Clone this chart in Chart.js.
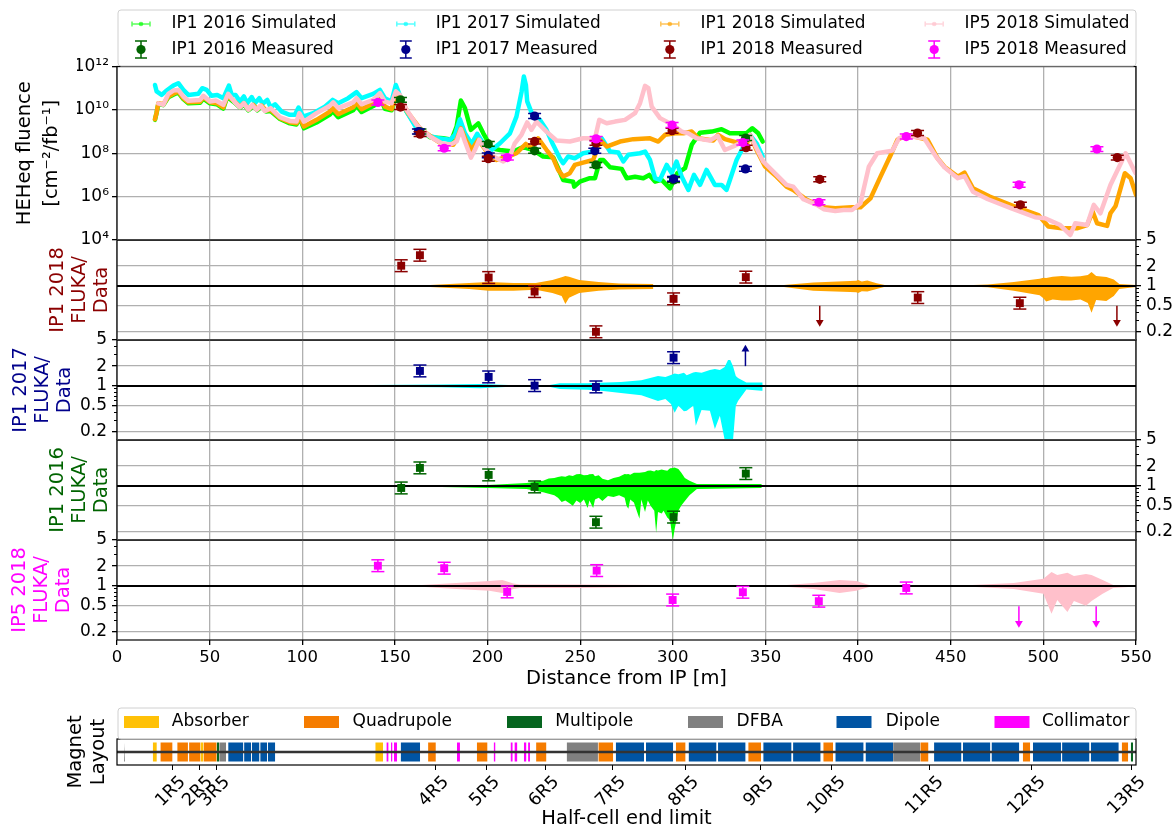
<!DOCTYPE html>
<html>
<head>
<meta charset="utf-8">
<script src="https://cdn.jsdelivr.net/npm/chart.js@4"></script>
<style>
  body { margin: 0; background: #fff; }
  #page { position: relative; width: 1172px; height: 831px; }
  canvas { position: absolute; left: 0; top: 0; }
</style>
</head>
<body>
<div id="page"></div>
<script>
// simulated fluence, x in metres, y as log10(fluence)
const sim2016X = [20.5,21.4,22.3,25,27.7,30.4,33.1,35.8,38.5,44.8,46.6,50.2,53.8,57.4,59.5,62.8,66.4,68.5,70.9,73.6,75.7,78,80.4,82.9,88,93.3,96.9,98.4,100.9,107.7,114.9,116.4,119.4,127.5,129.3,132,138.3,142.8,144.6,148.2,150.5,152.7,156.3,161.7,168.9,176.1,180.6,183.3,185.6,187.8,191,195,197.7,202.2,206.7,213.9,219.2,224.6,230,235.4,238.1,240.8,246.2,246.8,249.8,255.2,258,260.7,262.5,266.1,272.4,275.1,279.6,284.1,287.3,290.4,294,298.5,302.4,306.6,310.2,314.7,321,326.3,330.8,339.8,342.9,346.1,348.5];
const sim2016Y = [9.54,9.88,10.28,10.22,10.58,10.7,10.8,10.5,10.3,10.33,10.52,10.3,10.26,10.06,10.6,10.38,10.1,10.26,9.98,10.18,9.98,10.15,9.92,9.95,9.58,9.38,9.33,9.64,9.15,9.42,9.78,9.95,9.66,9.98,10.2,9.9,10.18,10.42,10.05,9.98,10.6,10.54,9.92,9.23,8.74,8.69,8.62,9.23,10.43,10.08,9.08,9.38,8.92,8.23,8.15,8.08,8.28,8.15,7.85,7.82,7.31,6.77,6.69,6.46,6.69,6.85,6.85,7.69,7.69,7.35,7.28,6.85,6.92,6.85,7,6.69,6.77,6.38,7.08,7.31,8.39,8.95,9,9.11,8.92,8.92,9.15,8.92,8.54];
const sim2017X = [20.5,21.4,24.1,26.8,30.4,33.1,35.8,38.5,43.9,46,48.4,51,54.1,57.4,60.4,61.9,64,66.4,68.5,70.3,72.7,74.5,76.8,78.6,81.1,82.9,85.3,88.8,93.3,96,98,100.5,105.9,112.2,116.4,119.4,124.8,129.3,132,138.3,141.9,144.6,148.2,150.5,153.6,156.3,161.7,167.1,173.4,179.7,182.4,185.1,187.8,191.4,194.4,197.7,202.2,206.7,212.1,215.6,217.4,218.4,219.6,220.7,221.4,224.6,228.2,231.8,235.4,239,240.8,243.5,247.1,251.6,257,258.9,261.6,266.1,270.6,273.3,276,282.3,285,287.7,290.4,293,296.7,299.4,302,304.8,308.4,311.4,314.7,318.2,322.7,326.3,329,330.8,334.4,337.7,341.6,345.2,348.5];
const sim2017Y = [11.15,10.85,10.69,10.89,11.12,11.23,10.92,10.69,10.74,11,10.92,10.65,10.69,10.54,11.12,10.69,10.69,10.39,10.62,10.31,10.59,10.31,10.54,10.28,10.46,10.12,10.26,9.92,9.77,9.77,10.11,9.69,9.85,10.15,10.46,10.31,10.54,10.82,10.54,10.74,10.92,10.54,10.39,11.15,10.46,9.92,9.15,8.85,8.69,8.62,8.85,9.57,8.92,8.43,8.9,8.46,8.15,8.46,8.92,9.69,10.43,10.85,11.54,11.15,10.39,9.69,9.54,9.08,8.39,7.77,7.54,7.85,7.77,8,8.08,8.69,8.69,8.08,8.03,7.62,7.93,8,8.08,7.69,6.85,6.77,7.46,7.08,7.62,6.92,6.31,7,6.54,7.23,6.54,6.54,6.31,6.77,7.69,8.23,8.85,8.46,7.85];
const sim2018X = [20.5,21.4,22.3,25,27.7,30.4,33.1,35.8,38.5,44.8,46.6,50.2,53.8,57.4,59.5,62.8,66.4,68.5,70.9,73.6,75.7,78,80.4,82.9,88,93.3,96.9,98.4,100.9,107.7,114.9,116.4,119.4,127.5,129.3,132,138.3,142.8,144.6,148.2,150.5,152.7,157.2,163.5,170.7,176.1,181.5,183.3,185.6,188.7,191.4,195,199.5,204.9,212,215.6,220.7,223.7,227.3,231.8,235.4,238.1,240.8,244.4,247.1,251.6,257,258,260.7,264.3,271.5,278.7,287.7,292.2,295.8,301.2,305.7,310.2,313.8,321.8,324.5,328.1,334.4,339.8,341.6,345.2,349.7,356,361.4,365,372.3,381.4,387.7,396.7,401.3,406.7,412.1,417.6,421.2,426.6,437.5,442.9,446.6,453.8,457.4,462,471,484.6,497.3,502.7,510,518.1,523.6,526.6,529,534.4,536.2,539,544,547.1,550];
const sim2018Y = [9.57,9.88,10.31,10.26,10.62,10.74,10.85,10.54,10.35,10.38,10.58,10.35,10.31,10.12,10.65,10.43,10.15,10.31,10.03,10.23,10.03,10.2,9.97,10,9.62,9.43,9.38,9.69,9.23,9.54,9.92,10.08,9.8,10.12,10.34,10.03,10.31,10.54,10.15,10.03,10.69,10.54,9.85,9.15,8.69,8.39,8.39,8.62,9.15,8.54,8.16,8.62,8.08,7.69,7.88,8,8.43,8.23,8.69,8.16,7.77,7.23,6.93,7.08,7.46,7.57,7.69,7.92,8.62,8.31,8.54,8.65,8.69,8.54,8.85,8.92,8.92,9,8.69,8.59,8.85,8.65,8.5,8.39,8.85,8.15,7.4,6.92,6.46,6.31,5.85,5.51,5.46,5.51,5.51,5.92,6.92,7.92,8.62,8.85,8.62,7.77,7.38,6.92,7.11,6.38,6,5.54,5.15,4.62,4.54,4.54,4.69,5.31,4.77,4.65,5.23,5.57,7.08,6.85,6.08];
const simIP5X = [22.3,25,27.7,30.4,33.1,35.8,38.5,44.8,46.6,50.2,53.4,57.4,60,63.7,66.4,68.5,70.9,73,75.4,77.5,79.9,82.9,88,93.3,96.9,98.4,100.9,107.7,114.9,116.7,119.4,127.5,129.3,132,138.3,141.9,144.6,148.2,150.5,152.7,156.3,161.7,168.9,175.2,179.7,183.3,185.6,187.8,191,193.2,195.5,198.6,203,208.5,212,214.7,218.3,221.4,223.7,226.4,231.8,237.2,244.4,251.6,258,260.3,264.3,268.8,274.2,279.6,282.3,285,286.8,288.6,293.1,299.9,304.8,308.4,312.8,320,324.2,328.1,332.6,338,341.6,345.2,348.8,356,361.4,365,370.5,377.7,381.4,387.7,392.2,396.7,401.3,403.1,405.8,410.3,418.5,422.1,426.6,435.7,442,446.6,453.8,457.4,462,470.1,482.8,495.5,500.9,509.1,514.5,517.2,523.6,527.2,530.8,536.2,544.4,549.8];
const simIP5Y = [10.3,10.23,10.74,10.89,10.92,10.62,10.42,10.46,10.65,10.39,10.43,10.23,10.74,10.34,10.12,10.31,10,10.23,10,10.2,9.95,10.08,9.66,9.49,9.46,9.85,9.46,9.85,10.19,10.35,10.08,10.35,10.54,10.26,10.46,10.77,10.38,10.31,10.85,10.69,10,9.31,8.77,8.46,8.39,8.54,9.11,8.54,7.8,8.16,8.62,8.23,7.85,7.62,7.85,8.46,8.85,9.42,9.08,9.46,9,8.59,8.54,8.69,8.69,9.54,9.38,9.46,9.54,9.85,10.31,11.11,11,10.15,9.62,9.31,9,8.92,8.69,8.59,8.8,8.15,8.31,8.54,8.85,8.23,7.62,7,6.54,6.46,5.88,5.62,5.42,5.34,5.38,5.38,5.69,6.38,7.38,8,8.12,8.69,8.8,8.69,7.85,7.35,6.85,6.95,6.23,5.88,5.46,5.05,5,4.69,4.23,4.77,4.69,5.62,5.23,6.54,8,7.08];

// measured fluence in cm-2/fb-1
const meas2016X = [153,163.5,200.4,225.4,258.5,300.4,339.3];
const meas2016Y = [2.9e10,1e9,2.7e8,1.3e8,2.9e7,5.9e6,5e8];
const meas2017X = [162.7,200.4,225.4,257.9,300.4,339.2];
const meas2017Y = [1e9,8e7,5.2e9,1.3e8,6.6e6,1.9e7];
const meas2018X = [153,163.6,200.4,225.4,258.5,299.6,339.5,379.3,432.1,487.6,539.9];
const meas2018Y = [1.35e10,7.6e8,5.6e7,3.5e8,3e8,1.1e9,1.8e8,6.3e6,8.5e8,4.2e5,6.3e7];
const measIP5X = [140.8,176.6,210.7,258.6,299.6,337.8,378.9,426,486.9,528.9];
const measIP5Y = [2.2e10,1.7e8,6.3e7,4.6e8,2e9,3.1e8,5.5e5,5.9e8,3.5e6,1.55e8];

// FLUKA/data ratios
const ratio2018X = [153.4,163.5,200.6,225.4,258.5,300.4,339.4,432.2,487.3];
const ratio2018Y = [2.03,2.93,1.34,0.82,0.2,0.635,1.36,0.664,0.546];
const ratio2017X = [163.5,200.6,225.4,258.5,300.4];
const ratio2017Y = [1.69,1.37,1.01,0.965,2.69];
const ratio2016X = [153.4,163.5,200.6,225.4,258.5,300.4,339.4];
const ratio2016Y = [0.93,1.88,1.47,0.965,0.28,0.335,1.54];
const ratioIP5X = [140.8,176.6,210.6,258.9,299.9,337.8,378.8,426];
const ratioIP5Y = [2.03,1.86,0.81,1.71,0.61,0.8,0.585,0.93];

// limit arrows: x, tail ratio, head ratio
const arrow2018 = [[379.3,0.5,0.28],[539.7,0.5,0.28]];
const arrow2017 = [[339.2,2.0,3.6]];
const arrowIP5 = [[486.8,0.49,0.27],[528.5,0.49,0.27]];

// simulation spread around 1, NaN leaves a gap
const band2018X = [80,120,150,169,190,200.6,214,226,235,240,242,244,249.5,260,271,289.5,NaN,345,360,375.8,395.6,399,400,402,405,410,415,420,NaN,451,470,484,498,500,501.5,505,510,515,520,524,526,528.5,534,538,541,550];
const band2018Hi = [1.005,1.005,1.01,1.035,1.11,1.15,1.11,1.11,1.23,1.35,1.42,1.38,1.23,1.15,1.09,1.07,NaN,1.01,1.03,1.13,1.19,1.2,1.23,1.17,1.21,1.1,1.02,1.005,NaN,1.005,1.05,1.15,1.28,1.33,1.32,1.38,1.42,1.38,1.4,1.47,1.63,1.42,1.37,1.25,1.07,1.035];
const band2018Lo = [0.995,0.995,0.99,0.965,0.9,0.84,0.84,0.87,0.78,0.7,0.53,0.66,0.78,0.84,0.885,0.9,NaN,0.99,0.965,0.84,0.81,0.8,0.78,0.83,0.82,0.9,0.98,0.995,NaN,0.995,0.95,0.84,0.72,0.65,0.58,0.62,0.6,0.6,0.62,0.55,0.39,0.61,0.59,0.7,0.9,0.965];
const band2017X = [80,175,196,215,232,239,254,260,272,283,292,296,299,301,303,306,307.5,311,312.4,315.5,320,322.7,325.4,328,329.8,331,332.5,334,335.2,339.7,347.8,348.5];
const band2017Hi = [1.005,1.05,1.07,1.02,1.01,1.1,1.1,1.12,1.15,1.22,1.42,1.37,1.47,1.55,1.5,1.58,1.45,1.6,1.63,1.58,1.75,1.81,1.75,1.94,2.48,2.48,2,1.42,1.32,1.13,1.13,1.13];
const band2017Lo = [0.995,0.95,0.92,0.98,0.99,0.9,0.87,0.85,0.78,0.72,0.59,0.63,0.53,0.39,0.5,0.41,0.42,0.5,0.247,0.43,0.417,0.22,0.35,0.15,0.15,0.15,0.15,0.5,0.59,0.885,0.84,0.84];
const band2016X = [80,150,175,200,221,230,233,236,238,240,242,244,246,248,250,252,254,255,257,258,260,262,265,268,271,274,275,276,277,279,282,283,285,286.5,288,290,291,292,294,295,297,298.5,300,301,303,304.5,306.5,309,313,348];
const band2016Hi = [1.005,1.01,1.01,1.035,1.11,1.2,1.3,1.32,1.37,1.4,1.38,1.45,1.42,1.5,1.52,1.45,1.47,1.5,1.52,1.4,1.45,1.28,1.22,1.32,1.38,1.52,1.5,1.52,1.48,1.58,1.58,1.6,1.63,1.7,1.72,1.65,1.75,1.72,1.78,1.75,1.7,1.85,1.88,1.9,1.81,1.6,1.32,1.2,1.07,1.07];
const band2016Lo = [0.995,0.97,0.96,0.93,0.9,0.8,0.76,0.72,0.66,0.57,0.6,0.55,0.5,0.6,0.55,0.62,0.46,0.6,0.46,0.62,0.66,0.59,0.7,0.68,0.72,0.66,0.5,0.447,0.62,0.56,0.315,0.62,0.4,0.6,0.5,0.42,0.193,0.4,0.38,0.417,0.33,0.3,0.15,0.22,0.417,0.5,0.59,0.72,0.9,0.93];
const bandIP5X = [160,183,201,208,214,217.5,250,295,330,NaN,357.8,375.8,390,399,406,412,NaN,453,484,500,504.4,507.5,513,516.5,523,526,532,537.7,550];
const bandIP5Hi = [1.01,1.11,1.19,1.23,1.09,1.05,1.05,1.03,1.005,NaN,1.01,1.11,1.23,1.19,1.035,1,NaN,1.005,1.11,1.28,1.63,1.47,1.58,1.42,1.52,1.47,1.23,1.035,1.02];
const bandIP5Lo = [0.99,0.9,0.84,0.78,0.9,0.93,0.93,0.97,0.995,NaN,0.99,0.9,0.78,0.84,0.965,1,NaN,0.995,0.9,0.76,0.375,0.61,0.4,0.59,0.5,0.59,0.76,0.93,0.98];

const fluenceTicks = [1e4,1e6,1e8,1e10,1e12];
const fluenceTickLabels = ['10⁴','10⁶','10⁸','10¹⁰','10¹²'];
const ratioTicks = [0.2,0.5,1,2,5];
const ratioMinorTicks = [0.3,0.4,0.6,0.7,0.8,0.9,3,4];
const refLineX = [0,550];
const refLineY = [1,1];

// magnet layout, [start, end] in metres
const absorberSpans = [[19.3,21.5],[45.1,46.7],[139.4,143.6]];
const quadrupoleSpans = [[23.4,30],[32.5,38.3],[38.9,45.1],[46.7,53.8],[167.9,172.1],[194.2,200],[226.2,231.8],[259.8,267.8],[301.6,306.9],[340.7,347.6],[381.2,386.5],[433.6,438],[488.9,492.9],[542.3,545.8]];
const multipoleSpans = [[53.8,55.2],[547.2,548.4]];
const dfbaSpans = [[3.8,4.3],[55.2,58.9],[242.7,259.6],[418.9,433.6]];
const dipoleSpans = [[60,68.2],[68.6,72.4],[72.8,76.9],[77.3,81],[81.4,85.4],[153.1,163.6],[269.2,284.5],[285.5,300.2],[308.5,323.6],[324.4,339.3],[348.8,364.1],[364.9,379.8],[387.7,403],[404,418.9],[441,455.8],[456.6,471.4],[472,487],[494.4,509.5],[510.1,524.9],[525.6,540.7]];
const collimatorSpans = [[145.4,146.6],[147.9,148.7],[149.5,151.2],[183.5,185.1],[203.3,204.3],[212.4,213.6],[214.5,216.1],[219.6,221],[221.9,222.9]];
const cellEndX = [29.7,44.3,53.5,171.7,199.3,231.2,267.2,306.6,347.1,385.9,438.8,493.8,547.8];
const cellEndLabels = ['1R5','2R5','3R5','4R5','5R5','6R5','7R5','8R5','9R5','10R5','11R5','12R5','13R5'];

const legendLabels = ['IP1 2016','IP1 2017','IP1 2018','IP5 2018'];
const simColors = ['#00ff00','#00ffff','#ffa500','#ffc0cb'];
const measColors = ['#006400','#00008b','#8b0000','#ff00ff'];
const magnetLabels = ['Absorber','Quadrupole','Multipole','DFBA','Dipole','Collimator'];
const magnetColors = ['#ffc107','#f57c00','#06651f','#808080','#0054a3','#ff00ff'];

const FONT = 'DejaVu Sans';
const GRID = '#b0b0b0';
const TICK_BOX = 40; // room for y tick labels, chart.js clips them to the scale box
Chart.defaults.font.family = FONT;
Chart.defaults.color = '#000';
Chart.defaults.animation = false;

const page = document.getElementById('page');

function makeChart(datasets, scales, padding, plugins) {
    const canvas = document.createElement('canvas');
    canvas.width = 1172;
    canvas.height = 831;
    page.appendChild(canvas);
    // titleAxis is a second y scale, so say which one the data belongs to
    datasets.forEach(d => { d.xAxisID = 'x'; d.yAxisID = 'y'; });
    return new Chart(canvas, {
        type: 'scatter',
        data: { datasets: datasets },
        options: {
            responsive: false,
            devicePixelRatio: 1,
            layout: { padding: padding },
            plugins: { legend: { display: false }, tooltip: { enabled: false } },
            scales: scales
        },
        plugins: [framePlugin].concat(plugins || [])
    });
}

const framePlugin = {
    id: 'frame',
    afterDatasetsDraw(chart) {
        const a = chart.chartArea, ctx = chart.ctx;
        ctx.save();
        ctx.strokeStyle = '#000';
        ctx.lineWidth = 1.2;
        ctx.strokeRect(a.left, a.top, a.right - a.left, a.bottom - a.top);
        ctx.restore();
    }
};

function toPoints(xs, ys) {
    return xs.map((x, i) => ({ x: x, y: ys[i] }));
}

function simLine(xs, logs, color, order) {
    return {
        data: toPoints(xs, logs.map(v => Math.pow(10, v))),
        showLine: true, borderColor: color, borderWidth: 4.5, pointRadius: 0,
        borderJoinStyle: 'round', borderCapStyle: 'round', order: order
    };
}

// error bar stems + caps, then the markers
function measured(xs, ys, color, style, radius, factor, order) {
    const stems = [];
    xs.forEach((x, i) => {
        stems.push({ x: x, y: ys[i] / factor }, { x: x, y: ys[i] * factor }, { x: NaN, y: NaN });
    });
    return [
        { data: toPoints(xs, ys), showLine: false, pointStyle: style, pointRadius: radius,
          pointBackgroundColor: color, pointBorderWidth: 0, order: order },
        { data: stems, showLine: true, borderColor: color, borderWidth: 1.5, pointStyle: 'line',
          pointRadius: 6.5, pointBorderColor: color, pointBorderWidth: 1.5, order: order + 0.5 }
    ];
}

function arrows(list, color) {
    return list.map(a => ({
        data: [{ x: a[0], y: a[1] }, { x: a[0], y: a[2] }],
        showLine: true, borderColor: color, borderWidth: 1.5,
        pointStyle: 'triangle', pointRadius: [0, 4.5], pointBackgroundColor: color,
        pointBorderWidth: 0, rotation: a[2] < a[1] ? 180 : 0, order: 1
    }));
}

function band(xs, hi, lo, color) {
    return [
        { data: toPoints(xs, hi), showLine: true, fill: '+1', backgroundColor: color, borderWidth: 0, pointRadius: 0, order: 5 },
        { data: toPoints(xs, lo), showLine: true, borderWidth: 0, pointRadius: 0, order: 5 }
    ];
}

function hiddenX() {
    return {
        type: 'linear', min: 0, max: 550,
        ticks: { display: false, stepSize: 50 },
        grid: { color: GRID, lineWidth: 1.3, drawTicks: false },
        border: { display: false },
        afterFit(s) { s.height = 0; }
    };
}

// left box that only carries the rotated axis title
function titleAxis(lines, color, lineHeight, padTop, width) {
    return {
        type: 'linear', position: 'left', weight: 5,
        grid: { display: false }, border: { display: false }, ticks: { display: false },
        title: { display: true, text: lines, color: color,
                 font: { size: 19.5, family: FONT, lineHeight: lineHeight + 'px' }, padding: { top: padTop, bottom: 0 } },
        afterFit(s) { s.width = width; }
    };
}

function ratioPanel(top, side, titleText, titleColor, padTop, datasets, showAxis) {
    const onLeft = side === 'left';
    const scales = {
        x: hiddenX(),
        yt: titleAxis(titleText, titleColor, 22, padTop, onLeft ? 117 - TICK_BOX : 117),
        y: {
            type: 'logarithmic', position: side, min: 0.15, max: 5,
            grid: { color: GRID, lineWidth: 1.3, tickColor: '#000', tickLength: 5 },
            border: { display: false },
            ticks: { autoSkip: false, padding: 5, font: { size: 17 }, callback: v => String(v) },
            afterBuildTicks(s) { s.ticks = ratioTicks.map(v => ({ value: v })); },
            afterFit(s) { s.width = onLeft ? TICK_BOX : 36; }
        },
        ym: {
            type: 'logarithmic', position: side, weight: -1, min: 0.15, max: 5,
            grid: { drawOnChartArea: false, tickColor: '#000', tickLength: 3 },
            border: { display: false },
            ticks: { autoSkip: false, callback: () => '' },
            afterBuildTicks(s) { s.ticks = ratioMinorTicks.map(v => ({ value: v })); },
            afterFit(s) { s.width = 0; }
        }
    };
    let bottom = 831 - top - 100;
    if (showAxis) {
        scales.x = Object.assign(hiddenX(), {
            ticks: { stepSize: 50, font: { size: 16.5 }, padding: 3, maxRotation: 0 },
            grid: { color: GRID, lineWidth: 1.3, tickColor: '#000', tickLength: 5 },
            title: { display: true, text: 'Distance from IP [m]', font: { size: 19.5 }, padding: { top: 0, bottom: 0 } },
            afterFit(s) { s.height = 51; }
        });
        bottom -= 51;
    }
    const refLine = { data: toPoints(refLineX, refLineY), showLine: true, borderColor: '#000', borderWidth: 2, pointRadius: 0, order: 2 };
    makeChart(datasets.concat([refLine]), scales, { left: 0, right: onLeft ? 36 : 0, top: top, bottom: bottom });
}

// matplotlib style legend block, the library's one cannot keep these columns
const fluenceLegend = {
    id: 'fluenceLegend',
    afterDraw(chart) {
        const ctx = chart.ctx;
        const markX = [141, 405.8, 669.8, 934.2], textX = [171.6, 435.7, 700.5, 964.6];
        legendBox(ctx, 118, 10, 1018, 56);
        ctx.font = '16.9px ' + FONT;
        ctx.textBaseline = 'middle';
        legendLabels.forEach((label, i) => {
            const c = markX[i];
            ctx.globalAlpha = 0.65;
            ctx.strokeStyle = ctx.fillStyle = simColors[i];
            ctx.lineWidth = 1.5;
            ctx.beginPath();
            ctx.moveTo(c - 9, 24); ctx.lineTo(c + 9, 24);
            ctx.moveTo(c - 9, 21.5); ctx.lineTo(c - 9, 26.5);
            ctx.moveTo(c + 9, 21.5); ctx.lineTo(c + 9, 26.5);
            ctx.stroke();
            ctx.beginPath(); ctx.arc(c, 24, 2.3, 0, 7); ctx.fill();
            ctx.globalAlpha = 1;
            ctx.strokeStyle = ctx.fillStyle = measColors[i];
            ctx.beginPath();
            ctx.moveTo(c, 41); ctx.lineTo(c, 58);
            ctx.moveTo(c - 6, 41); ctx.lineTo(c + 6, 41);
            ctx.moveTo(c - 6, 58); ctx.lineTo(c + 6, 58);
            ctx.stroke();
            ctx.beginPath(); ctx.arc(c, 49.5, 4.6, 0, 7); ctx.fill();
            ctx.fillStyle = '#000';
            ctx.fillText(label + ' Simulated', textX[i], 24);
            ctx.fillText(label + ' Measured', textX[i], 49.5);
        });
    }
};

const magnetLegend = {
    id: 'magnetLegend',
    afterDraw(chart) {
        const ctx = chart.ctx;
        const swatchX = [124, 304, 507, 688, 836.5, 994.5], textX = [171.8, 352.5, 555.3, 736.6, 885.7, 1042];
        legendBox(ctx, 118, 708, 1018, 31);
        ctx.font = '17px ' + FONT;
        ctx.textBaseline = 'middle';
        magnetLabels.forEach((label, i) => {
            ctx.fillStyle = magnetColors[i];
            ctx.fillRect(swatchX[i], 716, 35, 12);
            ctx.fillStyle = '#000';
            ctx.fillText(label, textX[i], 722);
        });
    }
};

function legendBox(ctx, x, y, w, h) {
    ctx.fillStyle = 'rgba(255,255,255,0.8)';
    ctx.strokeStyle = '#d0d0d0';
    ctx.lineWidth = 1;
    ctx.beginPath();
    ctx.roundRect(x, y, w, h, 3);
    ctx.fill();
    ctx.stroke();
}

// top panel
const fluenceSets = [
    ...measured(measIP5X, measIP5Y, measColors[3], 'circle', 4.6, 1.3, 0),
    ...measured(meas2018X, meas2018Y, measColors[2], 'circle', 4.6, 1.3, 1),
    ...measured(meas2017X, meas2017Y, measColors[1], 'circle', 4.6, 1.3, 2),
    ...measured(meas2016X, meas2016Y, measColors[0], 'circle', 4.6, 1.3, 3),
    simLine(simIP5X, simIP5Y, simColors[3], 4),
    simLine(sim2018X, sim2018Y, simColors[2], 5),
    simLine(sim2017X, sim2017Y, simColors[1], 6),
    simLine(sim2016X, sim2016Y, simColors[0], 7)
];
makeChart(fluenceSets, {
    x: hiddenX(),
    yt: titleAxis(['HEHeq fluence', '[cm⁻²/fb⁻¹]'], '#000', 27, 11, 117 - TICK_BOX),
    y: {
        type: 'logarithmic', position: 'left', min: 1e4, max: 1e12,
        grid: { color: GRID, lineWidth: 1.3, tickColor: '#000', tickLength: 5 },
        border: { display: false },
        ticks: { autoSkip: false, padding: 3, font: { size: 17 }, callback: (v, i) => fluenceTickLabels[i] },
        afterBuildTicks(s) { s.ticks = fluenceTicks.map(v => ({ value: v })); },
        afterFit(s) { s.width = TICK_BOX; }
    }
}, { left: 0, right: 36, top: 66.5, bottom: 831 - 240 }, [fluenceLegend]);

// ratio panels
ratioPanel(240, 'right', ['IP1 2018', 'FLUKA/', 'Data'], measColors[2], 47,
    [...measured(ratio2018X, ratio2018Y, measColors[2], 'rect', 5.6, 1.23, 0), ...arrows(arrow2018, measColors[2]), ...band(band2018X, band2018Hi, band2018Lo, simColors[2])]);
ratioPanel(340, 'left', ['IP1 2017', 'FLUKA/', 'Data'], measColors[1], 10,
    [...measured(ratio2017X, ratio2017Y, measColors[1], 'rect', 5.6, 1.23, 0), ...arrows(arrow2017, measColors[1]), ...band(band2017X, band2017Hi, band2017Lo, simColors[1])]);
ratioPanel(440, 'right', ['IP1 2016', 'FLUKA/', 'Data'], measColors[0], 47,
    [...measured(ratio2016X, ratio2016Y, measColors[0], 'rect', 5.6, 1.23, 0), ...band(band2016X, band2016Hi, band2016Lo, simColors[0])]);
ratioPanel(540, 'left', ['IP5 2018', 'FLUKA/', 'Data'], measColors[3], 9,
    [...measured(ratioIP5X, ratioIP5Y, measColors[3], 'rect', 5.6, 1.23, 0), ...arrows(arrowIP5, measColors[3]), ...band(bandIP5X, bandIP5Hi, bandIP5Lo, simColors[3])], true);

// magnet layout panel
function magnetSet(spans, color) {
    const pts = [];
    spans.forEach(s => pts.push({ x: s[0], y: 1 }, { x: s[1], y: 1 }, { x: NaN, y: NaN }));
    return { data: pts, showLine: true, fill: { value: -1 }, backgroundColor: color, borderWidth: 0, pointRadius: 0, order: 3 };
}
const magnetSets = [absorberSpans, quadrupoleSpans, multipoleSpans, dfbaSpans, dipoleSpans, collimatorSpans]
    .map((spans, i) => magnetSet(spans, magnetColors[i]));
magnetSets.push({ data: toPoints(refLineX, [0, 0]), showLine: true, borderColor: '#333', borderWidth: 2.5, pointRadius: 0, order: 1 });
makeChart(magnetSets, {
    x: {
        type: 'linear', min: 0, max: 550,
        grid: { drawOnChartArea: false, tickColor: '#000', tickLength: 5 },
        border: { display: false },
        ticks: { autoSkip: false, minRotation: 45, maxRotation: 45, font: { size: 17.5 }, padding: 2, labelOffset: 11,
                 callback: (v, i) => cellEndLabels[i] },
        title: { display: true, text: 'Half-cell end limit', font: { size: 19.5 }, padding: { top: 0, bottom: 0 } },
        afterBuildTicks(s) { s.ticks = cellEndX.map(v => ({ value: v })); },
        afterFit(s) { s.height = 66; }
    },
    yt: titleAxis(['Magnet', 'Layout'], '#000', 23, 64, 117),
    y: {
        type: 'linear', position: 'left', min: -1.37, max: 1.37,
        grid: { display: false }, border: { display: false }, ticks: { display: false },
        afterFit(s) { s.width = 0; }
    }
}, { left: 0, right: 36, top: 739, bottom: 0 }, [magnetLegend]);
</script>
</body>
</html>
